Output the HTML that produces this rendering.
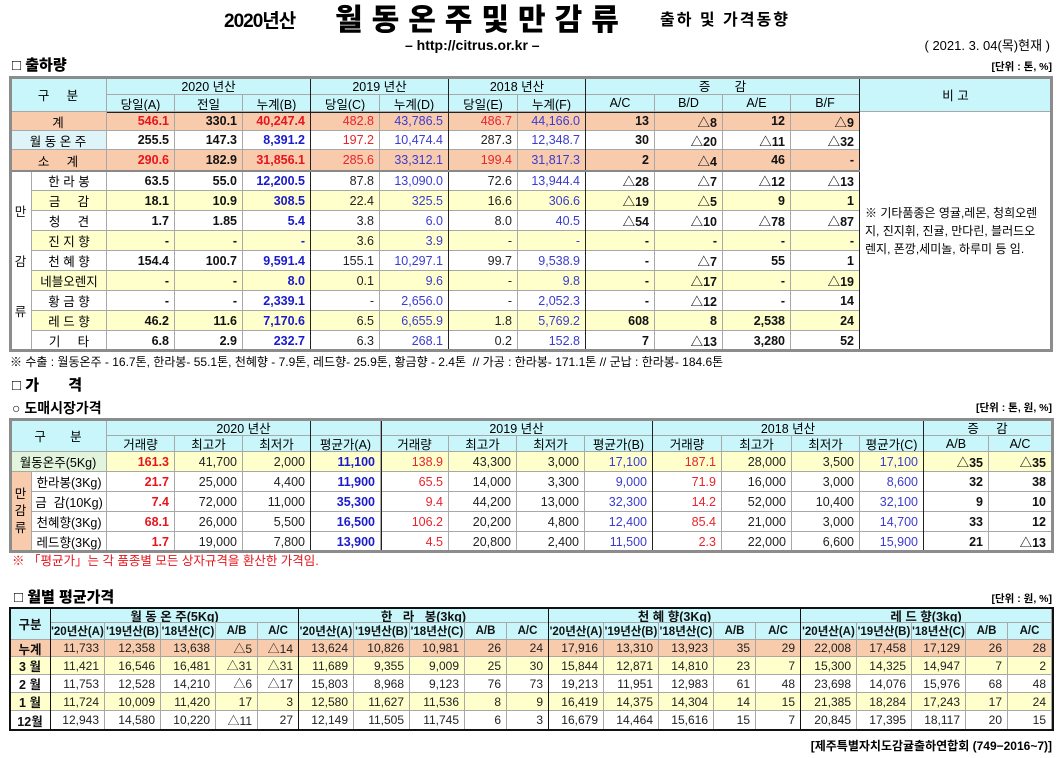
<!DOCTYPE html>
<html><head><meta charset="utf-8">
<style>
body{margin:0;width:1062px;height:758px;background:#fff;position:relative;overflow:hidden;font-family:"Liberation Sans","Noto Sans CJK KR",sans-serif;}
.c{position:absolute;box-sizing:border-box;border-right:1px solid #a8a8a8;border-bottom:1px solid #a8a8a8;font-size:12.5px;display:flex;align-items:center;white-space:nowrap;overflow:hidden;padding:0 5px;}
.t{position:absolute;white-space:nowrap;line-height:1;}
.rb{color:#e8141c;font-weight:bold}.r{color:#e8242c}.kb{color:#111;font-weight:bold}.k{color:#222}.bb{color:#1a1acc;font-weight:bold}.b{color:#3b3bd0}
.ln{position:absolute;background:#111;}
</style></head><body>
<div class="t" style="left:224px;top:12px;font-size:19px;font-weight:bold;letter-spacing:-1px;">2020년산</div>
<div class="t" style="left:335px;top:6px;font-size:30px;font-weight:900;letter-spacing:9px;">월동온주및만감류</div>
<div class="t" style="left:660px;top:13px;font-size:16px;font-weight:bold;letter-spacing:2px;">출하 및 가격동향</div>
<div class="t" style="left:405px;top:38px;font-size:14px;font-weight:bold;">– http://citrus.or.kr –</div>
<div class="t" style="right:12px;top:39px;font-size:13px;">( 2021. 3. 04(목)현재 )</div>
<div class="t" style="left:12px;top:58px;font-size:15px;font-weight:900;">□ 출하량</div>
<div class="t" style="right:10px;top:62px;font-size:10.5px;font-weight:bold;">[단위 : 톤, %]</div>
<div class="t" style="left:10px;top:356px;font-size:12px;">※ 수출 : 월동온주 - 16.7톤, 한라봉- 55.1톤, 천혜향 - 7.9톤, 레드향- 25.9톤, 황금향 - 2.4톤 &nbsp;// 가공 : 한라봉- 171.1톤 // 군납 : 한라봉- 184.6톤</div>
<div class="t" style="left:12px;top:378px;font-size:15px;font-weight:900;">□ 가 &nbsp; &nbsp; &nbsp; 격</div>
<div class="t" style="left:12px;top:401px;font-size:14px;font-weight:bold;">○ 도매시장가격</div>
<div class="t" style="right:10px;top:403px;font-size:10.5px;font-weight:bold;">[단위 : 톤, 원, %]</div>
<div class="t" style="left:12px;top:555px;font-size:12.5px;color:#e8141c;">※ 「평균가」는 각 품종별 모든 상자규격을 환산한 가격임.</div>
<div class="t" style="left:14px;top:590px;font-size:15px;font-weight:900;">□ 월별 평균가격</div>
<div class="t" style="right:10px;top:594px;font-size:10.5px;font-weight:bold;">[단위 : 원, %]</div>
<div class="t" style="right:10px;top:740px;font-size:12px;font-weight:bold;">[제주특별자치도감귤출하연합회 (749−2016~7)]</div>

<script>
const CY='#c8f6fb', PE='#f8cbad', YE='#ffffcc', GR='#e2f5dc';
function cell(x1,x2,y1,y2,text,cls,bg,align,name){
  const d=document.createElement('div');
  
  
  d.className='c '+(cls||'');
  d.style.left=x1+'px';d.style.top=y1+'px';d.style.width=(x2-x1)+'px';d.style.height=(y2-y1)+'px';
  d.style.justifyContent=align||'flex-end';
  if(bg)d.style.background=bg;
  d.innerHTML=text;
  document.body.appendChild(d);return d;
}
function line(x,y,w,h,color){
  const d=document.createElement('div');
  
  
  d.className='ln';d.style.left=x+'px';d.style.top=y+'px';d.style.width=w+'px';d.style.height=h+'px';
  if(color)d.style.background=color;
  document.body.appendChild(d);
}
function frame(x1,y1,x2,y2,w,color){
  line(x1,y1,x2-x1,w,color);line(x1,y2-w,x2-x1,w,color);line(x1,y1,w,y2-y1,color);line(x2-w,y1,w,y2-y1,color);
}

/* ---------- TABLE 1: shipments ---------- */
const t1x=[107,175,243,311,380,449,518,586,655,723,791,860];
const t1sub=['당일(A)','전일','누계(B)','당일(C)','누계(D)','당일(E)','누계(F)','A/C','B/D','A/E','B/F'];
const t1top=[
 ['계','total',PE,['546.1','330.1','40,247.4','482.8','43,786.5','486.7','44,166.0','13','△8','12','△9']],
 ['월 동 온 주','main',null,['255.5','147.3','8,391.2','197.2','10,474.4','287.3','12,348.7','30','△20','△11','△32']],
 ['소 &nbsp; &nbsp; 계','total',PE,['290.6','182.9','31,856.1','285.6','33,312.1','199.4','31,817.3','2','△4','46','-']]
];
const t1mangam=[
 ['한 라 봉',['63.5','55.0','12,200.5','87.8','13,090.0','72.6','13,944.4','△28','△7','△12','△13']],
 ['금 &nbsp; &nbsp; 감',['18.1','10.9','308.5','22.4','325.5','16.6','306.6','△19','△5','9','1']],
 ['청 &nbsp; &nbsp; 견',['1.7','1.85','5.4','3.8','6.0','8.0','40.5','△54','△10','△78','△87']],
 ['진 지 향',['-','-','-','3.6','3.9','-','-','-','-','-','-']],
 ['천 혜 향',['154.4','100.7','9,591.4','155.1','10,297.1','99.7','9,538.9','-','△7','55','1']],
 ['네블오렌지',['-','-','8.0','0.1','9.6','-','9.8','-','△17','-','△19']],
 ['황 금 향',['-','-','2,339.1','-','2,656.0','-','2,052.3','-','△12','-','14']],
 ['레 드 향',['46.2','11.6','7,170.6','6.5','6,655.9','1.8','5,769.2','608','8','2,538','24']],
 ['기 &nbsp; &nbsp; 타',['6.8','2.9','232.7','6.3','268.1','0.2','152.8','7','△13','3,280','52']]
];
const st1={total:['rb','kb','rb','r','b','r','b','kb','kb','kb','kb'],
 main:['kb','kb','bb','r','b','k','b','kb','kb','kb','kb'],
 sub:['kb','kb','bb','k','b','k','b','kb','kb','kb','kb']};
cell(10,107,77,112,'구 &nbsp; &nbsp; 분','',CY,'center','header-category');
[['2020 년산',0,3],['2019 년산',3,5],['2018 년산',5,7],['증 &nbsp; &nbsp; &nbsp; 감',7,11]].forEach(g=>cell(t1x[g[1]],t1x[g[2]],77,95,g[0],'',CY,'center','header-group'));
t1sub.forEach((s,i)=>cell(t1x[i],t1x[i+1],95,112,s,'',CY,'center','header-sub'));
cell(860,1052,77,112,'비 고','',CY,'center','header-remarks');
let y=112;const h1=[19,19,21];
t1top.forEach((r,ri)=>{
  cell(10,107,y,y+h1[ri],r[0],'',r[0].startsWith('월')?'#dff4f8':r[2],'center','row-label');
  r[3].forEach((v,i)=>cell(t1x[i],t1x[i+1],y,y+h1[ri],v,st1[r[1]][i],r[2],'flex-end','value-cell'));
  y+=h1[ri];
});
cell(10,32,171,351,'<div style="display:flex;flex-direction:column;justify-content:space-around;height:150px">만<span>감</span><span>류</span></div>','kb','#fff','center','mangam-label').style.fontWeight='normal';
t1mangam.forEach((r,ri)=>{
  const y1=171+ri*20,bg=ri%2?YE:null;
  cell(32,107,y1,y1+20,r[0],'',bg,'center','row-label');
  r[1].forEach((v,i)=>cell(t1x[i],t1x[i+1],y1,y1+20,v,st1.sub[i],bg,'flex-end','value-cell'));
});
cell(860,1052,112,351,'<div style="white-space:normal;line-height:18px;padding-top:0px">※ 기타품종은 영귤,레몬, 청희오렌지, 진지휘, 진귤, 만다린, 블러드오렌지, 폰깡,세미놀, 하루미 등 임.</div>','','#fff','flex-start','remarks-note').style.fontSize='12px';
[311,449,586,860].forEach(x=>line(x-1,77,1,274,'#222'));
line(107,112,753,1,'#222');line(10,170,850,2,'#888');
frame(9,76,1053,352,3,'#8c8c8c');

/* ---------- TABLE 2: wholesale prices ---------- */
const t2x=[107,175,243,311,381,449,517,585,653,722,792,860,924,989,1052];
const t2sub=['거래량','최고가','최저가','평균가(A)','거래량','최고가','최저가','평균가(B)','거래량','최고가','최저가','평균가(C)','A/B','A/C'];
const t2labels=['월동온주(5Kg)','한라봉(3Kg)','금 &nbsp;감(10Kg)','천혜향(3Kg)','레드향(3Kg)'];
const t2vals=[
 ['161.3','41,700','2,000','11,100','138.9','43,300','3,000','17,100','187.1','28,000','3,500','17,100','△35','△35'],
 ['21.7','25,000','4,400','11,900','65.5','14,000','3,300','9,000','71.9','16,000','3,000','8,600','32','38'],
 ['7.4','72,000','11,000','35,300','9.4','44,200','13,000','32,300','14.2','52,000','10,400','32,100','9','10'],
 ['68.1','26,000','5,500','16,500','106.2','20,200','4,800','12,400','85.4','21,000','3,000','14,700','33','12'],
 ['1.7','19,000','7,800','13,900','4.5','20,800','2,400','11,500','2.3','22,000','6,600','15,900','21','△13']
];
const st2=['rb','k','k','bb','r','k','k','b','r','k','k','b','kb','kb'];
cell(10,107,419,452,'구 &nbsp; &nbsp; &nbsp; 분','',CY,'center','header-category');
[['2020 년산',0,4],['2019 년산',4,8],['2018 년산',8,12],['증 &nbsp; &nbsp; 감',12,14]].forEach(g=>cell(t2x[g[1]],t2x[g[2]],419,436,g[0],'',CY,'center','header-group'));
t2sub.forEach((s,i)=>cell(t2x[i],t2x[i+1],436,452,s,'',CY,'center','header-sub'));
const t2y=[452,472,492,512,532,552];
t2vals.forEach((r,ri)=>{
  const y1=t2y[ri],y2=t2y[ri+1],bg=ri==0?YE:null;
  if(ri==0)cell(10,107,y1,y2,t2labels[ri],'',GR,'center','row-label');
  else cell(32,107,y1,y2,t2labels[ri],'',null,'center','row-label');
  r.forEach((v,i)=>cell(t2x[i],t2x[i+1],y1,y2,v,st2[i],bg,'flex-end','value-cell'));
});
cell(10,32,472,552,'<div style="line-height:17px;text-align:center">만<br>감<br>류</div>','',PE,'center','mangam-label');
[311,653,924].forEach(x=>line(x-1,419,1,133,'#222'));line(381,419,1,133,'#222');
frame(9,418,1054,553,3,'#8c8c8c');

/* ---------- TABLE 3: monthly averages ---------- */
const t3x=[51,105,161,216,258,299,354,410,465,507,549,604,659,714,756,801,857,912,966,1008,1052];
const t3groups=['월 동 온 주(5Kg)','한 &nbsp; 라 &nbsp; 봉(3kg)','천 혜 향(3Kg)','레 드 향(3kg)'];
const t3sub=["'20년산(A)","'19년산(B)","'18년산(C)",'A/B','A/C'];
const t3months=['누계','3 월','2 월','1 월','12월'];
const t3vals=[
 ['11,733','12,358','13,638','△5','△14','13,624','10,826','10,981','26','24','17,916','13,310','13,923','35','29','22,008','17,458','17,129','26','28'],
 ['11,421','16,546','16,481','△31','△31','11,689','9,355','9,009','25','30','15,844','12,871','14,810','23','7','15,300','14,325','14,947','7','2'],
 ['11,753','12,528','14,210','△6','△17','15,803','8,968','9,123','76','73','19,213','11,951','12,983','61','48','23,698','14,076','15,976','68','48'],
 ['11,724','10,009','11,420','17','3','12,580','11,627','11,536','8','9','16,419','14,375','14,304','14','15','21,385','18,284','17,243','17','24'],
 ['12,943','14,580','10,220','△11','27','12,149','11,505','11,745','6','3','16,679','14,464','15,616','15','7','20,845','17,395','18,117','20','15']
];
const t3bg=[PE,YE,null,YE,null];
const t3y=[640,657,675,693,711,730];
cell(10,51,608,640,'구분','kb',CY,'center','header-category');
t3groups.forEach((g,gi)=>cell(t3x[gi*5],t3x[gi*5+5],608,623,g,'kb',CY,'center','header-group'));
for(let i=0;i<20;i++){const c=cell(t3x[i],t3x[i+1],623,640,t3sub[i%5],'kb',CY,'center','header-sub');c.style.fontSize='11.5px';c.style.padding='0';}
t3vals.forEach((r,ri)=>{
  cell(10,51,t3y[ri],t3y[ri+1],t3months[ri],'kb',t3bg[ri],'center','month-label');
  r.forEach((v,i)=>{const c=cell(t3x[i],t3x[i+1],t3y[ri],t3y[ri+1],v,'k',t3bg[ri],'flex-end','value-cell');c.style.fontSize='12px';});
});
[51,299,549,801].forEach(x=>line(x-1,608,1,122,'#111'));
frame(9,607,1054,731,2,'#111');
</script>
</body></html>
